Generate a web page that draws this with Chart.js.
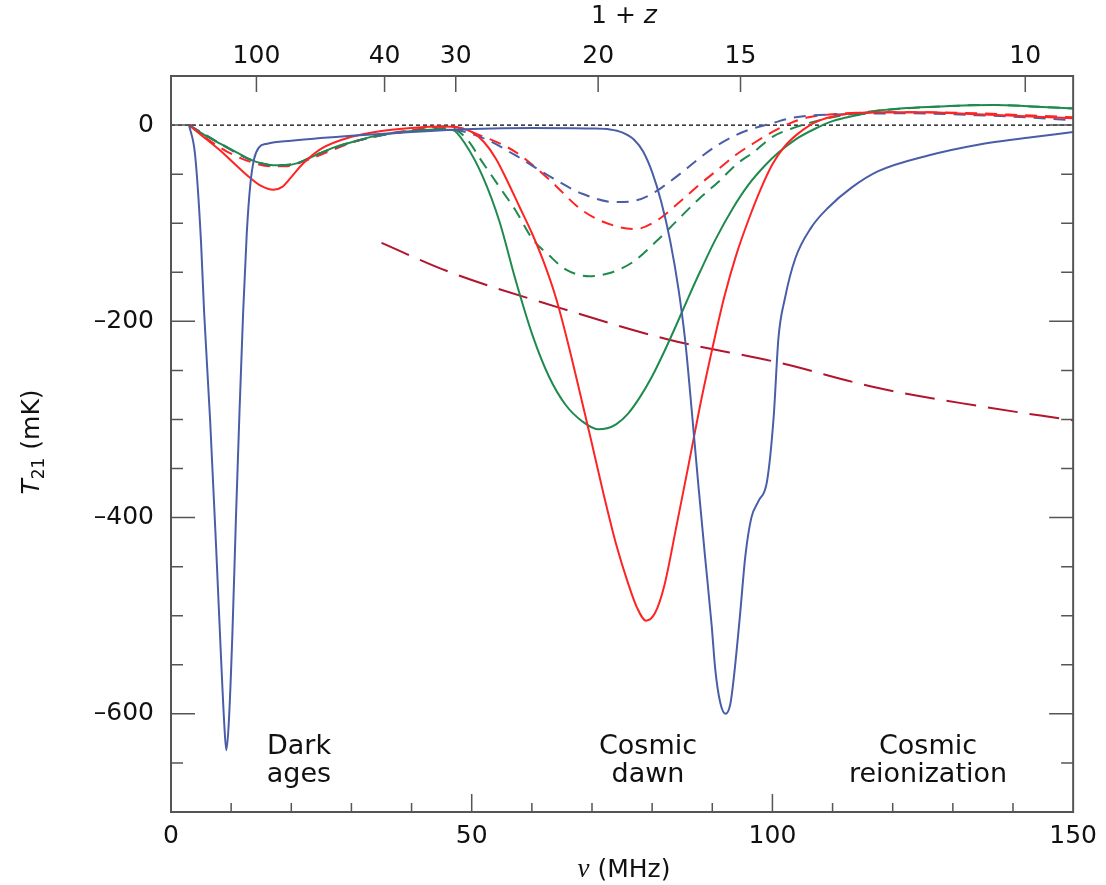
<!DOCTYPE html>
<html>
<head>
<meta charset="utf-8">
<script src="https://cdn.jsdelivr.net/npm/chart.js@4.4.1/dist/chart.umd.min.js"></script>
<style>
html,body{margin:0;padding:0;background:#fff;}
</style>
</head>
<body>
<canvas id="myChart" width="1106" height="885"></canvas>
<script>
// values: frequency (MHz) and brightness temperature (mK)
const zeroNu = [0, 150];
const zeroT = [0, 0];

const blueNu = [3, 4, 5, 5.5, 6.5, 7.5, 8.3, 8.9, 9.2, 9.6, 10.2, 10.8, 11.4, 12, 12.6, 13.2, 13.8, 14.6, 16, 20, 30, 40, 50, 60, 70, 73, 75, 77, 78.5, 80, 81.5, 83, 84.4, 85.5, 86.6, 87.7, 88.8, 89.9, 90.5, 91.3, 92.2, 93, 93.6, 94.6, 95.5, 96.5, 97.7, 99.1, 100.2, 101, 102.1, 103.8, 106.5, 109.3, 113.1, 117.6, 125.9, 134.2, 142.4, 150];
const blueT = [0, -30, -120, -190, -300, -430, -540, -615, -637, -610, -520, -400, -290, -190, -110, -60, -35, -23, -19, -16, -11, -7, -4, -3, -3.5, -4.5, -7.5, -15, -27, -48, -78, -118, -168, -220, -292, -368, -440, -510, -555, -588, -600, -590, -562, -500, -439, -400, -383, -363, -298, -217, -176, -136, -104, -84, -64, -47, -31, -20, -13, -7];

const greenNu = [3, 5, 8.2, 11, 13.1, 15, 17, 19, 20.9, 22.5, 24.7, 27, 30.3, 34, 38.6, 44, 46.8, 49, 51.8, 54.6, 57.3, 60.1, 62.9, 65.6, 68.4, 71, 72.5, 74, 76, 78, 80, 82, 84, 86, 88, 90.5, 93.3, 96, 98.8, 101, 104, 107, 110, 114, 118, 128, 137, 143, 150];
const greenT = [0, -8, -19, -28, -35, -39, -41, -41, -39, -35, -29, -23, -17, -11, -7, -4.4, -5, -20, -52, -98, -158, -214, -257, -285, -302, -310, -309, -305, -294, -277, -256, -231, -204, -176, -149, -117, -86, -61, -41, -28, -14, -4, 4, 10, 15, 19, 20.5, 19, 17];

const redNu = [3, 5, 8, 11, 13, 15, 17, 18.5, 20, 22, 25, 30, 35, 40, 45, 48, 50, 52, 54, 56, 58, 60, 62, 64, 66, 68, 70, 72, 74, 76, 77.5, 79, 80.5, 82, 84, 86, 88, 90, 92, 94, 96, 98, 100, 102, 104, 106, 108, 112, 118, 125, 134, 142, 150];
const redT = [0, -10, -25, -42, -53, -62, -66, -63, -53, -39, -24, -12, -6, -3, -1.5, -3, -7, -17, -34, -58, -84, -110, -140, -176, -222, -273, -325, -378, -427, -467, -492, -505, -497, -470, -410, -348, -285, -228, -175, -132, -97, -66, -40, -22, -10, -1, 5, 11, 13, 13, 11, 9, 7];

const blueDashNu = [3, 8.2, 13.1, 17, 20.9, 24.7, 30.3, 38.6, 46.3, 51.8, 57.3, 62.9, 68.4, 73.9, 77.2, 80, 82.2, 85, 88, 91, 94, 97, 100, 103, 106, 112, 123, 134, 142, 150];
const blueDashT = [0, -19, -35, -41, -39, -29, -17, -7, -4.5, -13, -31, -52, -70, -78.5, -77, -70, -61, -48, -33, -20, -10, -3, 2, 7, 9.5, 11, 12, 10, 8, 5];

const redDashNu = [3, 6, 9.3, 13, 16.5, 19, 22, 25, 30, 35, 40, 46.3, 51.8, 57.3, 62.9, 68.4, 73.9, 77.2, 80.6, 85, 88, 91, 94, 97, 100, 103, 106, 110, 117, 125, 134, 142, 150];
const redDashT = [0, -14, -27, -37, -42, -42, -37, -30, -18, -10, -5, -1, -11.5, -27.5, -55.6, -87, -103, -106, -98, -76, -60, -45, -30, -18, -7, 2, 8, 11, 13, 13, 12, 10, 8];

const greenDashNu = [3, 8.2, 13.1, 17, 20.9, 24.7, 30.3, 38.6, 46.3, 49, 51.8, 54.6, 57.3, 60.1, 62.9, 65.6, 69.5, 72.8, 76.7, 80.6, 85, 88, 91, 94, 97, 100, 103, 106, 110, 114, 118, 128, 137, 143, 150];
const greenDashT = [0, -19, -35, -41, -39, -29, -17, -7, -3, -13, -38, -63, -87, -116, -133, -147, -154, -151, -140, -119, -92, -74, -58, -40, -27, -12, -4, 2, 8, 12, 15, 19, 20.5, 19, 17];

const limitNu = [35, 46, 64.5, 83, 101, 117.6, 134, 150];
const limitT = [-120, -149, -186, -219, -242, -268, -286, -301];

// axis labels
const yTickValues = [-600, -400, -200, 0];
const xTickValues = [0, 50, 100, 150];
const onePlusZ = [100, 40, 30, 20, 15, 10];
const nu21 = 1420.4;

const BLUE = '#4a5ea8';
const GREEN = '#1f8a4e';
const RED = '#ff2424';
const DARKRED = '#b3142e';
const AXIS = '#555555';
const TEXT = '#111111';
const FONT = 'DejaVu Sans';

function pts(xs, ys) {
    return xs.map((x, i) => ({x: x, y: ys[i]}));
}

function line(label, xs, ys, color, dash, width) {
    return {
        label: label,
        data: pts(xs, ys),
        borderColor: color,
        borderWidth: width || 2,
        borderDash: dash || [],
        pointRadius: 0,
        fill: false,
        cubicInterpolationMode: 'monotone',
        xAxisID: 'x',
        yAxisID: 'y'
    };
}

// box, inward ticks, titles and the era labels
const decor = {
    id: 'decor',
    afterDraw(chart) {
        const ctx = chart.ctx;
        const a = chart.chartArea;
        const xs = chart.scales.x;
        const ys = chart.scales.y;
        ctx.save();
        ctx.strokeStyle = AXIS;
        ctx.lineWidth = 2;
        ctx.strokeRect(a.left, a.top, a.right - a.left, a.bottom - a.top);

        ctx.lineWidth = 1.5;
        ctx.beginPath();
        for (let v = -650; v < 50; v += 50) {
            const y = ys.getPixelForValue(v);
            const len = (v % 200 === 0) ? 24 : 12;
            ctx.moveTo(a.left, y); ctx.lineTo(a.left + len, y);
            ctx.moveTo(a.right, y); ctx.lineTo(a.right - len, y);
        }
        for (let v = 10; v < 150; v += 10) {
            const x = xs.getPixelForValue(v);
            const len = (v % 50 === 0) ? 18 : 9;
            ctx.moveTo(x, a.bottom); ctx.lineTo(x, a.bottom - len);
        }
        for (let i = 0; i < onePlusZ.length; i++) {
            const x = xs.getPixelForValue(nu21 / onePlusZ[i]);
            ctx.moveTo(x, a.top); ctx.lineTo(x, a.top + 16);
        }
        ctx.stroke();

        ctx.fillStyle = TEXT;
        ctx.textBaseline = 'alphabetic';

        // top title: 1 + z
        const f1 = '25px "' + FONT + '"';
        const f1i = 'italic 25px "' + FONT + '"';
        ctx.font = f1; const wA = ctx.measureText('1 + ').width;
        ctx.font = f1i; const wB = ctx.measureText('z').width;
        let x0 = 624 - (wA + wB) / 2;
        ctx.textAlign = 'left';
        ctx.font = f1; ctx.fillText('1 + ', x0, 23);
        ctx.font = f1i; ctx.fillText('z', x0 + wA, 23);

        // bottom title: nu (MHz)
        const fnu = 'italic 27px "Liberation Serif"';
        ctx.font = fnu; const wN = ctx.measureText('\u03BD').width;
        ctx.font = f1; const wM = ctx.measureText(' (MHz)').width;
        x0 = 624 - (wN + wM) / 2;
        ctx.font = fnu; ctx.fillText('\u03BD', x0, 877);
        ctx.font = f1; ctx.fillText(' (MHz)', x0 + wN, 877);

        // left title: T21 (mK)
        ctx.save();
        ctx.translate(39, 442);
        ctx.rotate(-Math.PI / 2);
        const fs = '17px "' + FONT + '"';
        ctx.font = f1i; const wT = ctx.measureText('T').width;
        ctx.font = fs; const wS = ctx.measureText('21').width;
        ctx.font = f1; const wU = ctx.measureText(' (mK)').width;
        x0 = -(wT + wS + wU) / 2;
        ctx.font = f1i; ctx.fillText('T', x0, 0);
        ctx.font = fs; ctx.fillText('21', x0 + wT, 5);
        ctx.font = f1; ctx.fillText(' (mK)', x0 + wT + wS, 0);
        ctx.restore();

        // era labels
        ctx.textAlign = 'center';
        ctx.font = '27px "' + FONT + '"';
        ctx.fillText('Dark', 299, 754);
        ctx.fillText('ages', 299, 782);
        ctx.fillText('Cosmic', 648, 754);
        ctx.fillText('dawn', 648, 782);
        ctx.fillText('Cosmic', 928, 754);
        ctx.fillText('reionization', 928, 782);
        ctx.restore();
    }
};

const ctx = document.getElementById('myChart').getContext('2d');
const chart = new Chart(ctx, {
    type: 'line',
    data: {
        datasets: [
            line('blue', blueNu, blueT, BLUE),
            line('red', redNu, redT, RED),
            line('green', greenNu, greenT, GREEN),
            line('blue dashed', blueDashNu, blueDashT, BLUE, [12, 8]),
            line('red dashed', redDashNu, redDashT, RED, [12, 8]),
            line('green dashed', greenDashNu, greenDashT, GREEN, [12, 8]),
            line('limit', limitNu, limitT, DARKRED, [30, 12]),
            line('zero', zeroNu, zeroT, '#000', [4, 3], 1.2)
        ]
    },
    options: {
        responsive: false,
        animation: false,
        layout: {padding: {left: 0, right: 30, top: 0, bottom: 0}},
        plugins: {legend: {display: false}, tooltip: {enabled: false}},
        scales: {
            x: {
                type: 'linear', position: 'bottom', min: 0, max: 150,
                grid: {display: false, drawTicks: false},
                border: {display: false},
                afterBuildTicks: s => { s.ticks = xTickValues.map(v => ({value: v})); },
                afterFit: s => { s.height = 73; },
                ticks: {color: TEXT, padding: 9, maxRotation: 0, font: {family: FONT, size: 25}}
            },
            x2: {
                type: 'linear', position: 'top', min: 0, max: 150,
                grid: {display: false, drawTicks: false},
                border: {display: false},
                afterBuildTicks: s => { s.ticks = onePlusZ.map(z => ({value: nu21 / z})); },
                afterFit: s => { s.height = 76; },
                ticks: {
                    color: TEXT, padding: 5, maxRotation: 0, font: {family: FONT, size: 25},
                    callback: v => String(Math.round(nu21 / v))
                }
            },
            y: {
                type: 'linear', position: 'left', min: -700, max: 50,
                grid: {display: false, drawTicks: false},
                border: {display: false},
                afterBuildTicks: s => { s.ticks = yTickValues.map(v => ({value: v})); },
                afterFit: s => { s.width = 171; },
                ticks: {
                    color: TEXT, padding: 17, font: {family: FONT, size: 25},
                    callback: v => v < 0 ? '\u2013' + (-v) : String(v)
                }
            }
        }
    },
    plugins: [decor]
});
</script>
</body>
</html>
